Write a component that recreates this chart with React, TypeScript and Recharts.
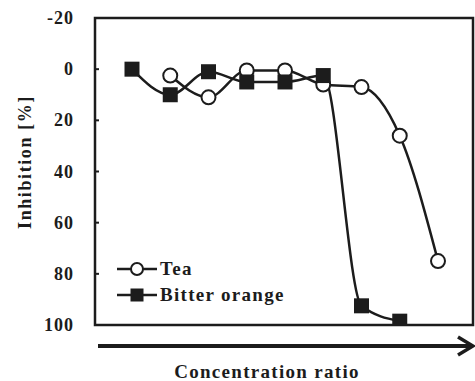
import { LineChart, Line, XAxis, YAxis, ReferenceArea } from 'recharts'

const categories = ['1', '2', '3', '4', '5', '6', '7', '8', '9']
const teaValues = [null, 2.5, 11, 0.5, 0.5, 6, 7, 26, 75]
const bitterOrangeValues = [0, 10, 1, 5, 5, 2.5, 92.5, 98.5, null]
const yTicks = [-20, 0, 20, 40, 60, 80, 100]
const legendItems = [
  { label: 'Tea', kind: 'circle' },
  { label: 'Bitter orange', kind: 'square' },
]

const data = categories.map((c, i) => ({
  x: c,
  tea: teaValues[i],
  bitter: bitterOrangeValues[i],
}))

const INK = '#1c1c1c'
const FONT = '"Liberation Serif", "Times New Roman", serif'
const PAD = { left: 37, right: 35 }

// y tick: label to the left, small tick mark pointing into the plot
const YTick = (props: any) => {
  const { x, y, payload } = props
  return (
    <g>
      <text
        x={x - 21}
        y={y}
        dy={6}
        textAnchor="end"
        fontFamily={FONT}
        fontWeight="bold"
        fontSize={18}
        letterSpacing={1}
        fill={INK}
      >
        {payload.value}
      </text>
      <line x1={x} x2={x + 4} y1={y} y2={y} stroke={INK} strokeWidth={2} />
    </g>
  )
}

const SquareDot = (props: any) => {
  const { cx, cy, value } = props
  if (value == null || cx == null || cy == null) return null
  return <rect x={cx - 7.5} y={cy - 7.5} width={15} height={15} fill={INK} />
}

const CircleDot = (props: any) => {
  const { cx, cy, value } = props
  if (value == null || cx == null || cy == null) return null
  return <circle cx={cx} cy={cy} r={7} fill="#fff" stroke={INK} strokeWidth={2} />
}

// plot frame: reference area spans first..last category, widen by axis padding
const Frame = (props: any) => {
  const { x, y, width, height } = props
  return (
    <rect
      x={x - PAD.left}
      y={y}
      width={width + PAD.left + PAD.right}
      height={height}
      fill="none"
      stroke={INK}
      strokeWidth={2.5}
    />
  )
}

export default function App() {
  return (
    <div style={{ position: 'fixed', left: 0, top: 0, width: 475, height: 381, background: '#fff' }}>
      <LineChart
        width={475}
        height={381}
        data={data}
        margin={{ top: 18, right: 2, bottom: 56, left: 0 }}
      >
        <XAxis
          dataKey="x"
          height={0}
          tick={false}
          tickLine={false}
          axisLine={false}
          padding={PAD}
        />
        <YAxis
          width={95}
          reversed
          domain={[-20, 100]}
          ticks={yTicks}
          tickLine={false}
          tickSize={0}
          tickMargin={0}
          tick={<YTick />}
          axisLine={false}
          allowDataOverflow
        />
        <ReferenceArea
          y1={-20}
          y2={100}
          ifOverflow="visible"
          shape={<Frame />}
        />
        <Line
          type="monotone"
          dataKey="tea"
          name="Tea"
          stroke={INK}
          strokeWidth={2.5}
          dot={<CircleDot />}
          activeDot={false}
          isAnimationActive={false}
        />
        <Line
          type="monotone"
          dataKey="bitter"
          name="Bitter orange"
          stroke={INK}
          strokeWidth={2.5}
          dot={<SquareDot />}
          activeDot={false}
          isAnimationActive={false}
        />
      </LineChart>
      <svg
        width={475}
        height={381}
        style={{ position: 'absolute', left: 0, top: 0, pointerEvents: 'none' }}
      >
        {/* legend */}
        {legendItems.map((r, i) => {
          const y = 269 + i * 26
          return (
            <g key={r.label}>
              <line x1={117} x2={157} y1={y} y2={y} stroke={INK} strokeWidth={2.5} />
              {r.kind === 'circle' ? (
                <circle cx={137} cy={y} r={6} fill="#fff" stroke={INK} strokeWidth={2} />
              ) : (
                <rect x={130.5} y={y - 6.5} width={13} height={13} fill={INK} />
              )}
              <text
                x={160}
                y={y}
                dy={6}
                fontFamily={FONT}
                fontWeight="bold"
                fontSize={19}
                letterSpacing={1.3}
                fill={INK}
              >
                {r.label}
              </text>
            </g>
          )
        })}
        <text
          transform="translate(31 162) rotate(-90)"
          textAnchor="middle"
          fontFamily={FONT}
          fontWeight="bold"
          fontSize={18}
          letterSpacing={1.6}
          fill={INK}
        >
          Inhibition [%]
        </text>
        <line x1={98} x2={472} y1={346} y2={346} stroke={INK} strokeWidth={4} />
        <polyline
          points="458,337 473,346 458,355"
          fill="none"
          stroke={INK}
          strokeWidth={3.5}
        />
        <text
          x={267}
          y={378}
          textAnchor="middle"
          fontFamily={FONT}
          fontWeight="bold"
          fontSize={19}
          letterSpacing={1.3}
          fill={INK}
        >
          Concentration ratio
        </text>
      </svg>
    </div>
  )
}
